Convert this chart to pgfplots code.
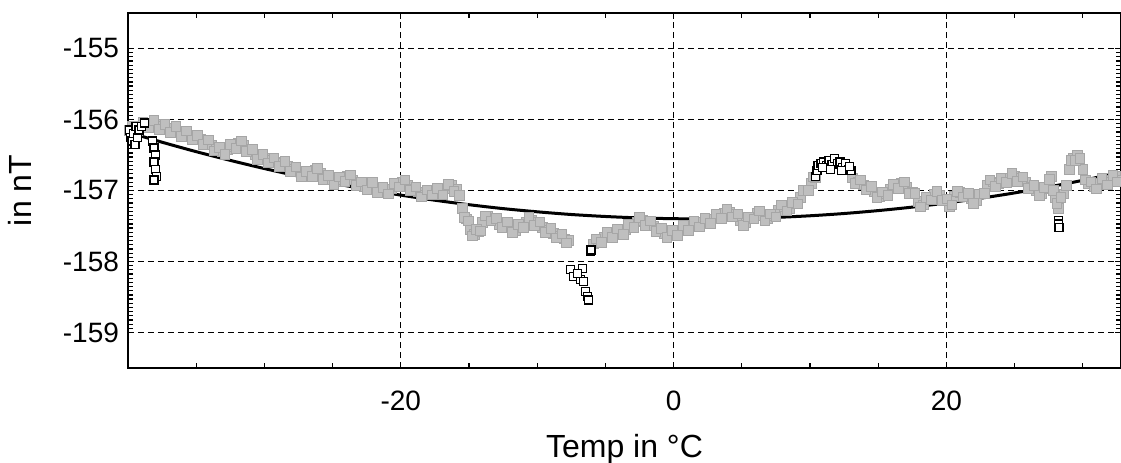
\documentclass[border=0pt]{standalone}
\usepackage{pgfplots}
\pgfplotsset{compat=1.18}
\usepackage{fontspec}
\setmainfont{Liberation Sans}
\begin{document}
\begin{tikzpicture}
\begin{axis}[
  scale only axis,
  width=496.5pt, height=177.5pt,
  xmin=-40, xmax=32.8, ymin=-159.5, ymax=-154.5,
  xtick={-20,0,20}, xticklabels={-20,0,20},
  ytick={-159,-158,-157,-156,-155}, yticklabels={-159,-158,-157,-156,-155},
  minor xtick={-35,-30,-25,-15,-10,-5,5,10,15,25,30},
  minor y tick num=16,
  grid=major,
  major grid style={black, line width=0.6pt, dash pattern=on 3pt off 2pt},
  axis line style={line width=0.9pt},
  tick style={black, line width=0.6pt},
  major tick length=3pt, minor tick length=2.5pt,
  tick align=inside,
  ticklabel style={font=\fontsize{14}{16}\selectfont},
  xticklabel style={yshift=-8pt},
  yticklabel style={xshift=-1pt},
  xlabel={Temp in °C}, ylabel={in nT},
  label style={font=\fontsize{16}{18}\selectfont},
  xlabel style={yshift=-5pt},
  ylabel style={yshift=9pt},
  clip=true,
]
% gray scatter (measurements)
\addplot[only marks, mark=square*, mark size=2.4pt,
  mark options={draw=gray!70, fill=gray!50, line width=0.4pt}] coordinates {
(-39.9,-156.15) (-39.5,-156.12) (-39.1,-156.10) (-38.7,-156.08) (-38.3,-156.05)
(-37.9,-156.07) (-37.5,-156.10) (-37.1,-156.13) (-36.7,-156.12) (-36.3,-156.17)
(-35.9,-156.20) (-35.5,-156.22) (-35.1,-156.25) (-34.7,-156.28) (-34.3,-156.32)
(-33.9,-156.36) (-33.5,-156.42) (-33.1,-156.45) (-32.7,-156.42) (-32.3,-156.38)
(-31.9,-156.33) (-31.5,-156.36) (-31.1,-156.44) (-30.7,-156.50) (-30.3,-156.52)
(-29.9,-156.55) (-29.5,-156.57) (-29.1,-156.60) (-28.7,-156.62) (-28.3,-156.66)
(-27.9,-156.70) (-27.5,-156.74) (-27.1,-156.77) (-26.7,-156.78) (-26.3,-156.72)
(-25.9,-156.76) (-25.5,-156.82) (-25.1,-156.85) (-24.7,-156.88) (-24.3,-156.84)
(-23.9,-156.80) (-23.5,-156.85) (-23.1,-156.90) (-22.7,-156.95) (-22.3,-156.92)
(-21.9,-156.96) (-21.5,-157.00) (-21.1,-157.02) (-20.7,-156.98) (-20.3,-156.92)
(-19.9,-156.88) (-19.5,-156.92) (-19.1,-156.98) (-18.7,-157.02) (-18.3,-157.06)
(-17.9,-157.02) (-17.5,-157.00) (-17.1,-157.03) (-16.7,-156.98) (-16.3,-156.93)
(-15.9,-156.98) (-15.5,-157.25) (-15.2,-157.40) (-14.9,-157.55) (-14.6,-157.62)
(-14.3,-157.58) (-14.0,-157.45) (-13.6,-157.36) (-13.2,-157.40) (-12.8,-157.48)
(-12.4,-157.45) (-12.0,-157.52) (-11.6,-157.56) (-11.2,-157.50) (-10.8,-157.44)
(-10.4,-157.42) (-10.0,-157.45) (-9.6,-157.52) (-9.2,-157.56) (-8.8,-157.60)
(-8.4,-157.64) (-8.0,-157.68) (-7.7,-157.70)
(-5.9,-157.75) (-5.5,-157.70) (-5.1,-157.66) (-4.7,-157.62) (-4.3,-157.60)
(-3.9,-157.58) (-3.5,-157.55) (-3.1,-157.50) (-2.7,-157.44) (-2.3,-157.42)
(-1.9,-157.46) (-1.5,-157.50) (-1.1,-157.56) (-0.7,-157.60) (-0.3,-157.62)
(0.1,-157.60) (0.5,-157.56) (0.9,-157.52) (1.3,-157.50) (1.7,-157.46)
(2.1,-157.45) (2.5,-157.42) (2.9,-157.40) (3.3,-157.35) (3.7,-157.32)
(4.1,-157.30) (4.5,-157.34) (4.9,-157.42) (5.3,-157.45) (5.7,-157.38)
(6.1,-157.32) (6.5,-157.35) (6.9,-157.40) (7.3,-157.35) (7.7,-157.28)
(8.1,-157.22) (8.5,-157.25) (8.9,-157.18) (9.3,-157.10) (9.7,-157.00)
(10.1,-156.90) (10.4,-156.82)
(13.1,-156.82) (13.5,-156.88) (13.9,-156.92) (14.3,-156.95) (14.7,-157.02)
(15.1,-157.08) (15.5,-157.05) (15.9,-156.98) (16.3,-156.94) (16.7,-156.90)
(17.1,-156.96) (17.5,-157.02) (17.9,-157.15) (18.3,-157.20) (18.7,-157.10)
(19.1,-157.05) (19.5,-157.06) (19.9,-157.12) (20.2,-157.22) (20.6,-157.08)
(21.0,-157.03) (21.4,-157.05) (21.8,-157.12) (22.2,-157.14) (22.6,-157.05)
(23.0,-156.92) (23.4,-156.88) (23.8,-156.90) (24.2,-156.86) (24.6,-156.82)
(25.0,-156.80) (25.4,-156.83) (25.8,-156.88) (26.2,-156.95) (26.6,-157.00)
(27.0,-157.04) (27.4,-156.98) (27.7,-156.80) (28.0,-157.10) (28.2,-157.25)
(28.6,-157.05) (29.0,-156.70) (29.3,-156.55) (29.6,-156.50) (30.0,-156.70)
(30.4,-156.90) (30.8,-156.95) (31.2,-156.90) (31.6,-156.85) (32.0,-156.88)
(32.4,-156.80) (32.7,-156.85)
};
\addplot[only marks, mark=square*, mark size=2.4pt,
  mark options={draw=gray!70, fill=gray!50, line width=0.4pt}] coordinates {
(-39.7,-156.09) (-39.3,-156.16) (-38.9,-156.04) (-38.5,-156.12) (-38.1,-156.01)
(-37.7,-156.14) (-37.3,-156.07) (-36.9,-156.18) (-36.5,-156.10) (-36.1,-156.24)
(-35.7,-156.16) (-35.3,-156.29) (-34.9,-156.22) (-34.5,-156.35) (-34.1,-156.29)
(-33.7,-156.44) (-33.3,-156.39) (-32.9,-156.49) (-32.5,-156.35) (-32.1,-156.41)
(-31.7,-156.30) (-31.3,-156.45) (-30.9,-156.42) (-30.5,-156.56) (-30.1,-156.49)
(-29.7,-156.61) (-29.3,-156.54) (-28.9,-156.66) (-28.5,-156.59) (-28.1,-156.73)
(-27.7,-156.67) (-27.3,-156.81) (-26.9,-156.73) (-26.5,-156.80) (-26.1,-156.69)
(-25.7,-156.84) (-25.3,-156.79) (-24.9,-156.92) (-24.5,-156.81) (-24.1,-156.87)
(-23.7,-156.78) (-23.3,-156.93) (-22.9,-156.88) (-22.5,-156.99) (-22.1,-156.89)
(-21.7,-157.03) (-21.3,-156.96) (-20.9,-157.05) (-20.5,-156.90) (-20.1,-156.95)
(-19.7,-156.85) (-19.3,-157.00) (-18.9,-156.95) (-18.5,-157.09) (-18.1,-156.99)
(-17.7,-157.06) (-17.3,-156.97) (-16.9,-157.06) (-16.5,-156.91) (-16.1,-157.01)
(-15.7,-157.07) (-15.35,-157.38) (-15.05,-157.43) (-14.75,-157.64) (-14.45,-157.55)
(-14.15,-157.57) (-13.8,-157.36) (-13.4,-157.43) (-13.0,-157.39) (-12.6,-157.52)
(-12.2,-157.44) (-11.8,-157.59) (-11.4,-157.48) (-11.0,-157.52) (-10.6,-157.38)
(-10.2,-157.49) (-9.8,-157.44) (-9.4,-157.59) (-9.0,-157.53) (-8.6,-157.67)
(-8.2,-157.61) (-7.85,-157.74)
(-5.7,-157.68) (-5.3,-157.73) (-4.9,-157.59) (-4.5,-157.66) (-4.1,-157.54)
(-3.7,-157.62) (-3.3,-157.48) (-2.9,-157.52) (-2.5,-157.38) (-2.1,-157.49)
(-1.7,-157.43) (-1.3,-157.58) (-0.9,-157.53) (-0.5,-157.66) (-0.1,-157.56)
(0.3,-157.63) (0.7,-157.49) (1.1,-157.56) (1.5,-157.43) (1.9,-157.51)
(2.3,-157.39) (2.7,-157.46) (3.1,-157.33) (3.5,-157.39) (3.9,-157.26)
(4.3,-157.37) (4.7,-157.33) (5.1,-157.49) (5.5,-157.37) (5.9,-157.40)
(6.3,-157.29) (6.7,-157.43) (7.1,-157.33) (7.5,-157.37) (7.9,-157.20)
(8.3,-157.29) (8.7,-157.17) (9.1,-157.19) (9.5,-157.00) (9.9,-157.00)
(10.25,-156.81)
(13.3,-156.90) (13.7,-156.85) (14.1,-156.99) (14.5,-156.94) (14.9,-157.10)
(15.3,-157.02) (15.7,-157.07) (16.1,-156.91) (16.5,-156.97) (16.9,-156.88)
(17.3,-157.04) (17.7,-157.04) (18.1,-157.23) (18.5,-157.10) (18.9,-157.13)
(19.3,-157.01) (19.7,-157.14) (20.05,-157.12) (20.4,-157.20) (20.8,-157.01)
(21.2,-157.09) (21.6,-157.04) (22.0,-157.18) (22.4,-157.05) (22.8,-157.04)
(23.2,-156.85) (23.6,-156.94) (24.0,-156.83) (24.4,-156.89) (24.8,-156.76)
(25.2,-156.87) (25.6,-156.81) (26.0,-156.97) (26.4,-156.93) (26.8,-157.07)
(27.2,-156.96) (27.55,-156.84) (27.85,-157.00) (28.1,-157.18) (28.4,-157.10)
(28.8,-156.93) (29.15,-156.58) (29.45,-156.58) (29.8,-156.55) (30.2,-156.85)
(30.6,-156.88) (31.0,-156.98) (31.4,-156.83) (31.8,-156.92) (32.2,-156.79)
(32.55,-156.88)
};
% black squares (flagged measurements)
\addplot[only marks, mark=square*, mark size=2pt,
  mark options={draw=black, fill=white, line width=0.7pt}] coordinates {
(-39.9,-156.15) (-39.8,-156.25) (-39.7,-156.30) (-39.6,-156.20) (-39.5,-156.35)
(-39.4,-156.10) (-39.3,-156.25) (-39.2,-156.15) (-39.0,-156.10) (-38.8,-156.05)
(-38.2,-156.30) (-38.1,-156.40) (-38.0,-156.50) (-38.1,-156.60) (-38.0,-156.70)
(-37.9,-156.80) (-38.1,-156.85)
(-7.55,-158.11) (-6.67,-158.10) (-7.33,-158.21) (-6.81,-158.25) (-7.03,-158.17)
(-6.59,-158.28) (-6.45,-158.42) (-6.30,-158.49) (-6.23,-158.54)
(-6.08,-157.86) (-6.05,-157.84)
(10.4,-156.80) (10.5,-156.72) (10.6,-156.65) (10.8,-156.62) (11.0,-156.60)
(11.2,-156.65) (11.4,-156.58) (11.6,-156.63) (11.8,-156.55) (12.0,-156.62)
(12.2,-156.60) (12.4,-156.68) (12.6,-156.62) (12.8,-156.70) (13.0,-156.72)
(12.9,-156.66) (11.5,-156.70) (12.3,-156.72) (10.9,-156.68)
(28.2,-157.42) (28.2,-157.47) (28.25,-157.52)
};
% quadratic fit
\addplot[black, line width=1.5pt, smooth] coordinates {
(-40,-156.179) (-37.5,-156.320) (-35,-156.453) (-32.5,-156.576) (-30,-156.691)
(-27.5,-156.798) (-25,-156.896) (-22.5,-156.985) (-20,-157.065) (-17.5,-157.137)
(-15,-157.200) (-12.5,-157.255) (-10,-157.300) (-7.5,-157.338) (-5,-157.366)
(-2.5,-157.386) (0,-157.397) (2.5,-157.400) (5,-157.394) (7.5,-157.379)
(10,-157.356) (12.5,-157.324) (15,-157.283) (17.5,-157.234) (20,-157.176)
(22.5,-157.109) (25,-157.034) (27.5,-156.950) (30,-156.857) (32.8,-156.744)
};
\end{axis}
\pgfresetboundingbox
\useasboundingbox (-64pt,-47pt) rectangle (496.5pt,184pt);
\end{tikzpicture}
\end{document}
